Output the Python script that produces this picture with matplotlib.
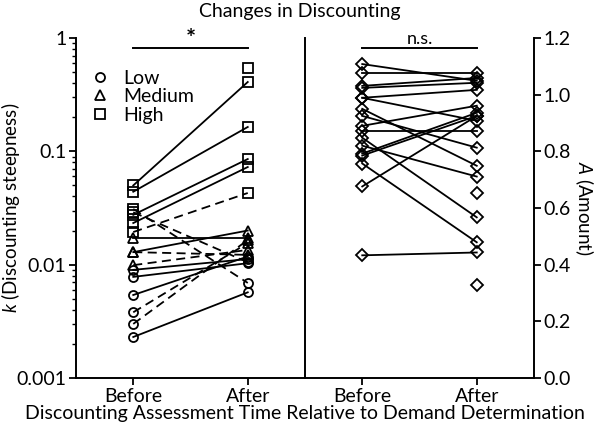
import numpy as np
import matplotlib.pyplot as plt
from matplotlib.lines import Line2D
from matplotlib.ticker import FixedLocator, LogLocator, NullFormatter

plt.rcParams['font.family'] = ['Lato', 'DejaVu Sans']
plt.rcParams['mathtext.fontset'] = 'custom'
plt.rcParams['mathtext.it'] = 'Lato:italic'
plt.rcParams['mathtext.rm'] = 'Lato'

# k values (left panel), one entry per subject; nan = no value at that time
k_before = [0.050, 0.044, 0.0275, 0.0233, 0.0194, 0.031, 0.029, 0.0171, 0.0129,
            0.0129, 0.0099, 0.0078, 0.0090, 0.0054, 0.0038, 0.0030, 0.0023, np.nan]
k_after = [0.409, 0.164, 0.0855, 0.0727, 0.0429, 0.0069, 0.0105, 0.0171, 0.020,
           0.0122, 0.0135, 0.0103, 0.0112, 0.0118, 0.0155, 0.0165, 0.0057, 0.543]
k_grp_before = ['High', 'High', 'High', 'High', 'High', 'High', 'High', 'Medium', 'Medium',
                'Medium', 'Medium', 'Low', 'Low', 'Low', 'Low', 'Low', 'Low', 'High']
k_grp_after = ['High', 'High', 'High', 'High', 'High', 'Low', 'Low', 'Medium', 'Medium',
               'Medium', 'Medium', 'Low', 'Low', 'Low', 'Medium', 'Medium', 'Low', 'High']
k_dashed = [False, False, False, False, True, True, True, False, False,
            True, True, False, False, False, True, True, False, False]

# A values (right panel)
a_before = [1.108, 1.077, 1.031, 1.024, 0.989, 0.989, 0.950, 0.925, 0.890, 0.873,
            0.848, 0.820, 0.792, 0.785, 0.757, 0.676, 0.433, np.nan, np.nan]
a_after = [1.049, 1.077, 1.059, 1.042, 1.017, 0.908, 0.749, 0.813, 0.961, 0.873,
           0.567, 0.711, 0.936, 0.925, 0.479, 0.925, 0.443, 0.654, 0.327]

groups = ['Low', 'Medium', 'High']
markers = {'Low': 'o', 'Medium': '^', 'High': 's'}
msize = {'Low': 6.5, 'Medium': 7, 'High': 7}
times = ['Before', 'After']

fig = plt.figure(figsize=(6, 4.32), dpi=100)
ax1 = fig.add_axes([76/600, 1-378/432, 229/600, 340/432])
ax2 = fig.add_axes([305/600, 1-378/432, 229/600, 340/432])

lw = 1.3
# left panel
for kb, ka, gb, ga, d in zip(k_before, k_after, k_grp_before, k_grp_after, k_dashed):
    ls = (0, (5, 3)) if d else '-'
    ax1.plot([0, 1], [kb, ka], color='black', lw=lw, linestyle=ls)
    ax1.plot([0], [kb], marker=markers[gb], ms=msize[gb], mfc='none', mec='black', mew=1.3, ls='none')
    ax1.plot([1], [ka], marker=markers[ga], ms=msize[ga], mfc='none', mec='black', mew=1.3, ls='none')

ax1.set_yscale('log')
ax1.set_ylim(0.001, 1)
ax1.set_xlim(-0.5, 1.5)
ax1.set_xticks([0, 1])
ax1.set_xticklabels(times)
ax1.yaxis.set_major_locator(FixedLocator([0.001, 0.01, 0.1, 1]))
ax1.set_yticklabels(['0.001', '0.01', '0.1', '1'])
ax1.yaxis.set_minor_locator(LogLocator(base=10, subs=np.arange(2, 10)))
ax1.yaxis.set_minor_formatter(NullFormatter())
ax1.spines['top'].set_visible(False)
ax1.spines['right'].set_visible(False)
ax1.set_ylabel('$k$ (Discounting steepness)', fontsize=13.5)
ax1.yaxis.set_label_coords(-0.235, 0.5)

# significance bar
ax1.plot([0, 1], [0.82, 0.82], color='black', lw=1.4, clip_on=False)
ax1.text(0.5, 0.965, '*', ha='center', va='center', fontsize=17, fontweight='bold')

handles = [Line2D([], [], marker=markers[g], ms=msize[g], mfc='none', mec='black', mew=1.3, ls='none')
           for g in groups]
ax1.legend(handles, groups, loc='upper left', bbox_to_anchor=(0.01, 0.93), frameon=False,
           fontsize=14, labelspacing=0.08, handletextpad=0.5, handlelength=1.4, borderaxespad=0)

# right panel
for ab, aa in zip(a_before, a_after):
    ax2.plot([0, 1], [ab, aa], color='black', lw=lw)
    ax2.plot([0], [ab], marker='D', ms=6.5, mfc='none', mec='black', mew=1.3, ls='none')
    ax2.plot([1], [aa], marker='D', ms=6.5, mfc='none', mec='black', mew=1.3, ls='none')

ax2.set_ylim(0, 1.2)
ax2.set_xlim(-0.5, 1.5)
ax2.set_xticks([0, 1])
ax2.set_xticklabels(times)
ax2.set_yticks(np.arange(0, 1.21, 0.2))
ax2.set_yticklabels(['0.0', '0.2', '0.4', '0.6', '0.8', '1.0', '1.2'])
ax2.yaxis.tick_right()
ax2.yaxis.set_label_position('right')
ax2.spines['top'].set_visible(False)
ax2.set_ylabel('$A$ (Amount)', fontsize=13.5, rotation=270, labelpad=18)

ax2.plot([0, 1], [1.165, 1.165], color='black', lw=1.4, clip_on=False)
ax2.text(0.5, 1.168, 'n.s.', ha='center', va='bottom', fontsize=13)

for ax in (ax1, ax2):
    ax.tick_params(axis='both', which='major', labelsize=14, length=5, width=1.3, color='black', pad=2)
    ax.tick_params(axis='y', which='minor', length=3, width=1)
    for s in ax.spines.values():
        s.set_linewidth(1.4)

fig.text(0.5, 1-12/432, 'Changes in Discounting', ha='center', va='center', fontsize=14)
fig.text(305/600, 1-413/432, 'Discounting Assessment Time Relative to Demand Determination',
         ha='center', va='center', fontsize=14)

fig.savefig('out.png', dpi=100)
